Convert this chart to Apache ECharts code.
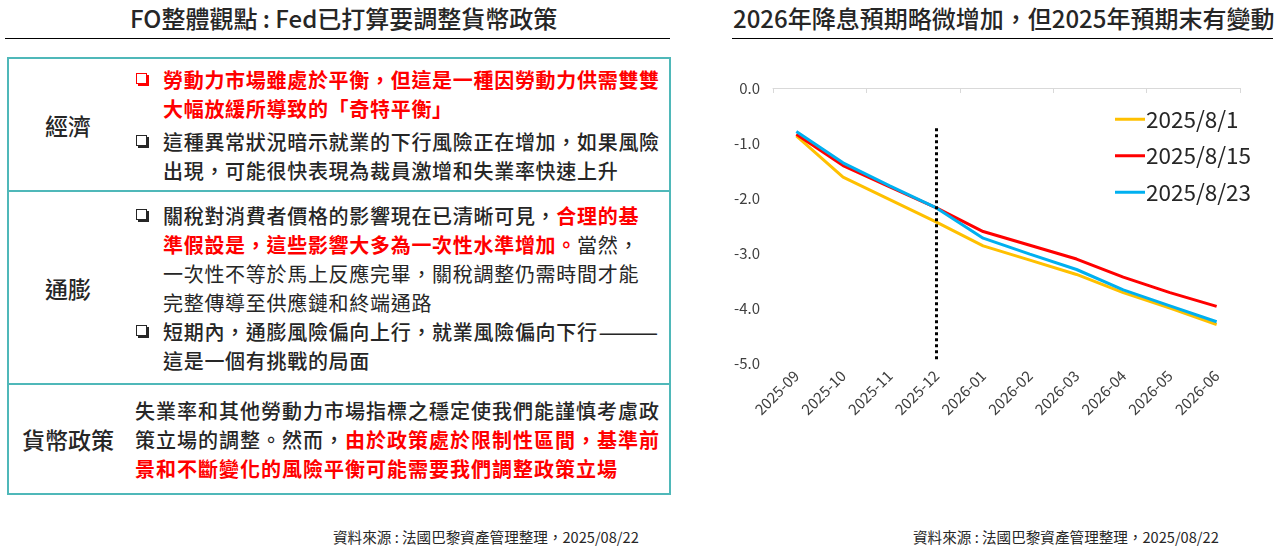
<!DOCTYPE html>
<html>
<head>
<meta charset="utf-8">
<script src="https://cdn.jsdelivr.net/npm/echarts@6/dist/echarts.min.js"></script>
<style>
  body { margin:0; width:1280px; height:547px; background:#fff; position:relative; overflow:hidden;
         font-family:"Noto Sans CJK TC","Noto Sans",sans-serif; color:#262626; }
  .head { position:absolute; top:1px; font-size:24px; font-weight:500; line-height:34px; white-space:nowrap; }
  .rule { position:absolute; top:38px; height:0; border-top:1px solid #000; }
  .src { position:absolute; top:527px; font-size:14.6px; line-height:20px; white-space:nowrap; color:#262626; }
  #tbl { position:absolute; left:7px; top:57px; width:664px; border:2px solid #4fb8b9; box-sizing:border-box; }
  .row { display:flex; align-items:center; border-top:2px solid #4fb8b9; box-sizing:border-box; }
  .row:first-child { border-top:none; }
  .lab { width:118px; text-align:center; font-size:23px; font-weight:500; }
  .txt { flex:1; padding-left:6px; font-size:20px; letter-spacing:0.7px; line-height:29px; white-space:nowrap; }
  .b { position:relative; padding-left:30px; }
  .b:before { content:""; position:absolute; left:3px; top:8px; width:9px; height:9px;
              border:1.6px solid #262626; box-shadow:2px 2px 0 #262626; }
  .r { color:#ff0000; font-weight:700; }
  .r.b:before { border-color:#ff0000; box-shadow:2px 2px 0 #ff0000; }
  .m { font-weight:500; }
  #chart { position:absolute; left:720px; top:40px; width:560px; height:480px; }
</style>
</head>
<body>
<div class="head" style="left:130px;">FO整體觀點 : Fed已打算要調整貨幣政策</div>
<div class="rule" style="left:5px;width:665px;"></div>
<div id="tbl">
  <div class="row" style="height:131px;">
    <div class="lab">經濟</div>
    <div class="txt">
      <div class="b r">勞動力市場雖處於平衡，但這是一種因勞動力供需雙雙<br>大幅放緩所導致的「奇特平衡」</div>
      <div class="b m" style="margin-top:4px;">這種異常狀況暗示就業的下行風險正在增加，如果風險<br>出現，可能很快表現為裁員激增和失業率快速上升</div>
    </div>
  </div>
  <div class="row" style="height:193px;">
    <div class="lab">通膨</div>
    <div class="txt">
      <div class="b"><span class="m">關稅對消費者價格的影響現在已清晰可見，</span><span class="r">合理的基<br>準假設是，這些影響大多為一次性水準增加。</span>當然，<br>一次性不等於馬上反應完畢，關稅調整仍需時間才能<br>完整傳導至供應鏈和終端通路</div>
      <div class="b m">短期內，通膨風險偏向上行，就業風險偏向下行<span style="letter-spacing:0;display:inline-block;transform:scaleX(1.8);transform-origin:left;">——</span><br>這是一個有挑戰的局面</div>
    </div>
  </div>
  <div class="row" style="height:110px;">
    <div class="lab">貨幣政策</div>
    <div class="txt" style="padding-left:8px;letter-spacing:1px;">
      <div class="m">失業率和其他勞動力市場指標之穩定使我們能謹慎考慮政<br>策立場的調整。然而，<span class="r">由於政策處於限制性區間，基準前<br>景和不斷變化的風險平衡可能需要我們調整政策立場</span></div>
    </div>
  </div>
</div>
<div class="src" style="left:333px;">資料來源 : 法國巴黎資產管理整理，2025/08/22</div>

<div class="head" style="left:733px;">2026年降息預期略微增加，但2025年預期末有變動</div>
<div class="rule" style="left:732px;width:541px;"></div>
<div id="chart"></div>
<div class="src" style="left:913px;">資料來源 : 法國巴黎資產管理整理，2025/08/22</div>

<script>
// implied cumulative rate change (%) by month, three pricing dates
var months = ['2025-09','2025-10','2025-11','2025-12','2026-01','2026-02','2026-03','2026-04','2026-05','2026-06'];
var seriesNames = ['2025/8/1','2025/8/15','2025/8/23'];
var rate0801 = [-0.87,-1.62,-2.03,-2.44,-2.87,-3.13,-3.39,-3.72,-4.00,-4.30];
var rate0815 = [-0.84,-1.41,-1.80,-2.18,-2.61,-2.86,-3.11,-3.44,-3.72,-3.97];
var rate0823 = [-0.79,-1.36,-1.78,-2.18,-2.73,-3.02,-3.30,-3.67,-3.96,-4.25];
var colors = ['#ffc000','#ff0000','#00b0f0'];
var markMonth = '2025-12';
var markRange = [-0.73, -4.94];

var chart = echarts.init(document.getElementById('chart'));

var makeLine = function (name, data, color, mark) {
    var s = {
        name: name,
        type: 'line',
        data: data,
        showSymbol: false,
        symbol: 'none',
        lineStyle: { color: color, width: 3 },
        itemStyle: { color: color },
        z: 3
    };
    if (mark) {
        s.markLine = {
            silent: true,
            symbol: 'none',
            label: { show: false },
            lineStyle: { color: '#000', type: [3, 3], width: 3 },
            data: [[{ xAxis: markMonth, yAxis: markRange[0] }, { xAxis: markMonth, yAxis: markRange[1] }]]
        };
    }
    return s;
};

option = {
    animation: false,
    textStyle: { fontFamily: 'Noto Sans CJK TC' },
    grid: { left: 53, right: 40, top: 48, bottom: 157 },
    legend: {
        orient: 'vertical',
        left: 390,
        top: 63,
        itemWidth: 30,
        itemHeight: 3,
        itemGap: 14,
        icon: 'rect',
        data: seriesNames,
        textStyle: { color: '#262626', fontSize: 22.5, padding: [0, 0, 0, -4] }
    },
    xAxis: [
        {
            type: 'category',
            data: months,
            position: 'bottom',
            axisLine: { show: false, onZero: false },
            axisTick: { show: false },
            axisLabel: { rotate: 45, margin: 10, fontSize: 15, color: '#404040', interval: 0 }
        },
        {
            type: 'category',
            data: months,
            position: 'top',
            axisLine: { show: true, onZero: false, lineStyle: { color: '#d9d9d9', width: 1 } },
            axisTick: { show: true, inside: true, length: 5, lineStyle: { color: '#d9d9d9' } },
            axisLabel: { show: false }
        }
    ],
    yAxis: {
        type: 'value',
        min: -5,
        max: 0,
        interval: 1,
        axisLine: { show: false },
        axisTick: { show: false },
        splitLine: { show: false },
        axisLabel: {
            fontSize: 15,
            color: '#404040',
            margin: 13,
            formatter: function (v) { return v.toFixed(1); }
        }
    },
    series: [
        makeLine(seriesNames[0], rate0801, colors[0], true),
        makeLine(seriesNames[1], rate0815, colors[1], false),
        makeLine(seriesNames[2], rate0823, colors[2], false)
    ]
};
chart.setOption(option);
</script>
</body>
</html>
